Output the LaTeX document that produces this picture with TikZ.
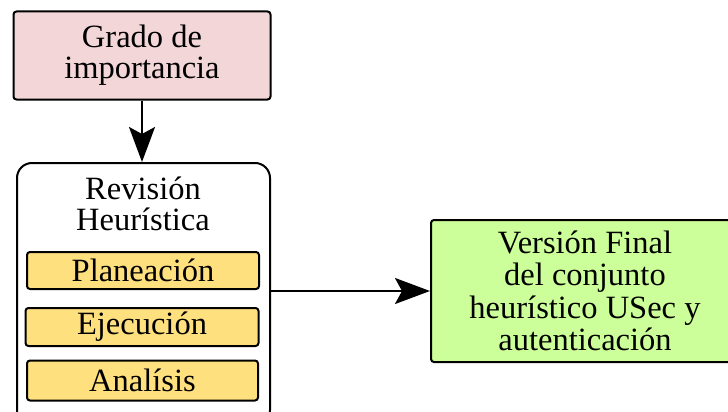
\documentclass[tikz,border=0pt]{standalone}
\usepackage{fontspec}
\setmainfont{Liberation Serif}
\usetikzlibrary{arrows.meta}
\definecolor{pinkfill}{HTML}{F3D6D8}
\definecolor{yellowfill}{HTML}{FFE07F}
\definecolor{greenfill}{HTML}{CCFF99}
\tikzset{
  box/.style={draw=black, line width=2pt, rounded corners=3pt, inner sep=0pt, align=center,
    font=\fontsize{32.5}{31}\selectfont},
  phase/.style={box, fill=yellowfill},
  conn/.style={line width=2.2pt, -{Stealth[length=35pt,width=26pt,inset=7pt]}},
}
\begin{document}
\begin{tikzpicture}[x=1pt,y=-1pt]
\useasboundingbox (0,0) rectangle (728,412);
\clip (0,0) rectangle (728,412);
\node[box, fill=pinkfill, minimum width=257pt, minimum height=88pt] (grado) at (142,55.5) {Grado de\\importancia};
\node[box, fill=white, rounded corners=15pt, minimum width=253pt, minimum height=262pt] (rev) at (143.5,294) {};
\node[align=center, inner sep=0pt, font=\fontsize{32.5}{31}\selectfont] (revt) at (143,204) {Revisión\\Heurística};
\node[phase, minimum width=232pt, minimum height=37pt] (plan) at (143,270.5) {Planeación};
\node[phase, minimum width=233pt, minimum height=38pt] (ejec) at (142,327) {Ejecución};
\node[phase, minimum width=231pt, minimum height=40pt] (anal) at (142.5,380.5) {Analísis};
\node[box, fill=greenfill, minimum width=308pt, minimum height=142pt, font=\fontsize{32.5}{32.5}\selectfont] (final) at (585,291) {Versión Final\\del conjunto\\heurístico USec y\\autenticación};
\draw[conn] (grado.south) -- (grado.south |- rev.north);
\draw[conn] (rev.east |- final.west) -- (final.west);
\end{tikzpicture}
\end{document}
